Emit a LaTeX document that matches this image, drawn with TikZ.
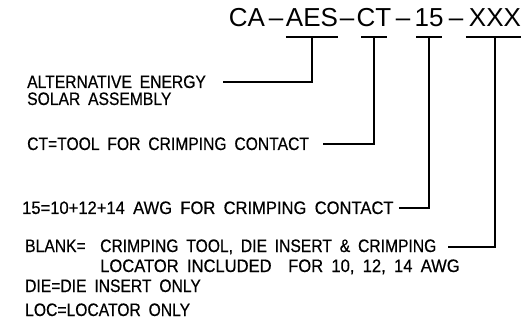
\documentclass[tikz,border=0pt]{standalone}
\usepackage{fontspec}
\newfontfamily\cadfont[FakeStretch=0.87,WordSpace=1.8,FakeBold=0.5]{Liberation Sans}
\newfontfamily\cadwide[FakeStretch=0.92,WordSpace=1.8,FakeBold=0.5]{Liberation Sans}
\newfontfamily\cadtitle{Liberation Sans}
\tikzset{every node/.style={inner sep=0pt,font=\cadfont\fontsize{18}{18}\selectfont}}
\tikzset{part/.style={anchor=base,text depth=10pt,font=\cadtitle\fontsize{26}{26}\selectfont}}
\tikzset{note/.style={anchor=base west}}
\tikzset{numnote/.style={note,font=\cadwide\fontsize{18}{18}\selectfont}}
\tikzset{lead/.style={line width=1.4pt}}

\begin{document}
\begin{tikzpicture}[x=1pt,y=-1pt]
      \useasboundingbox (0,0) rectangle (529,320);
      % part number
      \node[part] (CA) at (247,27) {CA};
      \node[part] (d1) at (276,27) {–};
      \node[part] (AES) at (312,27) {AES};
      \node[part] (d2) at (347,27) {–};
      \node[part] (CT) at (374,27) {CT};
      \node[part] (d3) at (403,27) {–};
      \node[part] (N15) at (429,27) {15};
      \node[part] (d4) at (456,27) {–};
      \node[part] (XXX) at (495,27) {XXX};

      % descriptions
      \node[note] (alt1) at (27,88) {ALTERNATIVE ENERGY};
      \node[note] (alt2) at (27,105) {SOLAR ASSEMBLY};
      \node[note] (ct) at (27,150) {CT=TOOL FOR CRIMPING CONTACT};
      \node[numnote] (awg) at (22,214) {15=10+12+14 AWG FOR CRIMPING CONTACT};
      \node[note] (blank1) at (25,252) {\makebox[75pt][l]{BLANK=}CRIMPING TOOL, DIE INSERT \& CRIMPING};
      \node[numnote] (blank2) at (100,272) {LOCATOR INCLUDED\ \ FOR 10, 12, 14 AWG};
      \node[note] (die) at (25,292) {DIE=DIE INSERT ONLY};
      \node[note] (loc) at (25,316) {LOC=LOCATOR ONLY};

      \draw[lead] (AES.south west) -- (AES.south east);
      \draw[lead,shorten <=5pt,shorten >=5pt] (CT.south west) -- (CT.south east);
      \draw[lead,shorten <=2pt,shorten >=2pt] (N15.south west) -- (N15.south east);
      \draw[lead] ([xshift=-3pt]XXX.south west) -- (XXX.south east);
      \draw[lead] (AES.south) |- ([xshift=17pt]alt1.east);
      \draw[lead] (CT.south) |- ([xshift=14pt]ct.east);
      \draw[lead] (N15.south) |- ([xshift=5pt]awg.east);
      \draw[lead] (XXX.south) |- ([xshift=11pt]blank1.east);
    \end{tikzpicture}
\end{document}
